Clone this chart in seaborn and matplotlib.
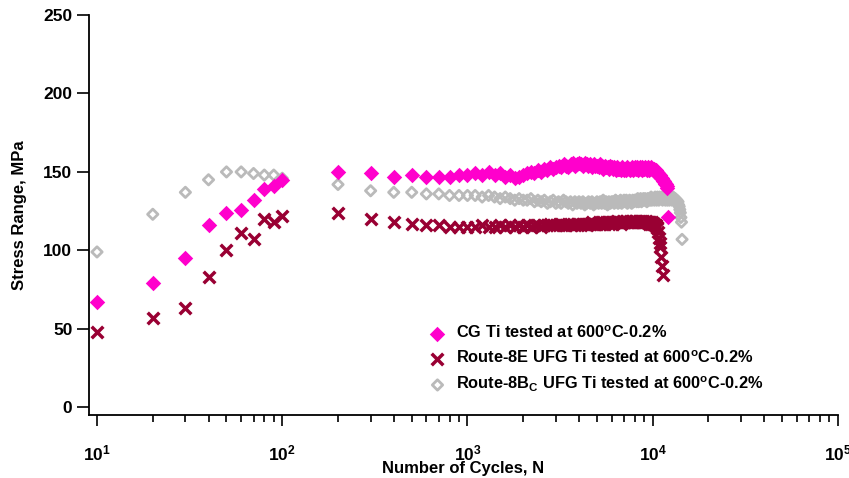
import matplotlib
matplotlib.use("Agg")
import matplotlib.pyplot as plt
import seaborn as sns
from matplotlib.ticker import LogLocator, LogFormatterSciNotation

# ---------------- data ----------------
cycles = [
    10, 20, 30, 40, 50, 60, 70, 80, 90, 100,
    200, 300, 400, 500, 600, 700, 800, 900, 1000,
    1100, 1200, 1300, 1400, 1500, 1600, 1700, 1800, 1900, 2000,
    2100, 2200, 2300, 2400, 2500, 2600, 2700, 2800, 2900, 3000,
    3100, 3200, 3300, 3400, 3500, 3600, 3700, 3800, 3900, 4000,
    4100, 4200, 4300, 4400, 4500, 4600, 4700, 4800, 4900, 5000,
    5100, 5200, 5300, 5400, 5500, 5600, 5700, 5800, 5900, 6000,
    6100, 6200, 6300, 6400, 6500, 6600, 6700, 6800, 6900, 7000,
    7100, 7200, 7300, 7400, 7500, 7600, 7700, 7800, 7900, 8000,
    8100, 8200, 8300, 8400, 8500, 8600, 8700, 8800, 8900, 9000,
    9100, 9200, 9300, 9400, 9500, 9600, 9700, 9800, 9900, 10000,
    10100, 10200, 10300, 10400, 10500, 10600, 10700, 10800, 10900, 11000,
    11100, 11200, 11300, 11400, 11500, 11600, 11700, 11800, 11900, 12000,
    12100, 12200, 12300, 12400, 12500, 12600, 12700, 12800, 12900, 13000,
    13100, 13200, 13300, 13400, 13500, 13600, 13700, 13800, 13900, 14000,
    14100, 14200, 14300, 14400,
]

# CG Ti
stress_cg = [
    67, 79, 95, 116, 124, 126, 132, 139, 141, 145,
    150, 149, 147, 148, 147, 147, 147, 148, 148,
    149, 148, 150, 148, 149, 147, 148, 146, 147, 148,
    149, 150, 149, 151, 150, 152, 151, 153, 152, 153,
    154, 153, 155, 154, 153, 155, 156, 154, 155, 156,
    155, 154, 156, 155, 154, 155, 153, 155, 154, 154,
    153, 155, 154, 152, 154, 153, 153, 152, 154, 153,
    152, 153, 151, 153, 152, 152, 151, 153, 152, 151,
    152, 151, 153, 152, 151, 152, 153, 151, 152, 153,
    152, 153, 151, 152, 153, 152, 151, 153, 152, 152,
    153, 152, 151, 153, 152, 151, 152, 153, 152, 151,
    152, 151, 150, 151, 150, 149, 149, 148, 148, 147,
    146, 146, 145, 144, 144, 143, 142, 142, 141, 140,
    121,
]

# Route-8E UFG Ti
stress_8e = [
    48, 57, 63, 83, 100, 111, 107, 120, 118, 122,
    124, 120, 118, 117, 116, 116, 115, 115, 115,
    115, 116, 115, 115, 116, 115, 116, 115, 116, 115,
    116, 115, 116, 116, 115, 116, 116, 117, 116, 116,
    116, 117, 116, 116, 117, 116, 117, 116, 117, 117,
    116, 117, 117, 116, 117, 117, 118, 117, 117, 117,
    118, 117, 117, 118, 117, 118, 118, 117, 118, 118,
    117, 118, 118, 119, 118, 118, 117, 118, 119, 118,
    118, 119, 118, 118, 119, 118, 119, 118, 118, 119,
    119, 118, 118, 119, 118, 119, 118, 118, 119, 118,
    118, 119, 118, 118, 117, 118, 118, 117, 118, 117,
    117, 117, 116, 116, 115, 114, 112, 108, 105, 102,
    96, 90, 84,
]

# Route-8Bc UFG Ti
stress_8bc = [
    99, 123, 137, 145, 150, 150, 149, 148, 148, 146,
    142, 138, 137, 137, 136, 136, 135, 135, 135,
    135, 134, 135, 134, 133, 134, 133, 132, 133, 132,
    132, 133, 131, 132, 131, 132, 130, 131, 132, 130,
    131, 130, 132, 131, 130, 131, 129, 131, 130, 131,
    130, 131, 129, 130, 131, 130, 131, 129, 130, 131,
    130, 131, 130, 132, 130, 131, 129, 131, 130, 131,
    131, 130, 132, 131, 130, 131, 132, 130, 131, 132,
    131, 132, 130, 131, 132, 131, 130, 132, 131, 132,
    132, 131, 133, 131, 132, 133, 131, 132, 133, 132,
    133, 132, 131, 133, 132, 133, 132, 134, 132, 133,
    133, 132, 134, 133, 132, 134, 133, 132, 134, 133,
    133, 134, 132, 133, 134, 133, 132, 134, 133, 132,
    133, 134, 132, 133, 134, 133, 132, 133, 134, 133,
    132, 133, 132, 131, 132, 130, 131, 129, 128, 126,
    124, 121, 118, 107,
]

labels = [
    "CG Ti tested at 600$^{\\mathregular{o}}$C-0.2%",
    "Route-8E UFG Ti tested at 600$^{\\mathregular{o}}$C-0.2%",
    "Route-8B$_{\\mathregular{C}}$ UFG Ti tested at 600$^{\\mathregular{o}}$C-0.2%",
]

# ---------------- style ----------------
sns.set_theme(style="ticks")
plt.rcParams["font.family"] = ["Liberation Sans", "DejaVu Sans"]
plt.rcParams["font.weight"] = "bold"
plt.rcParams["axes.labelweight"] = "bold"
plt.rcParams["text.color"] = "black"
plt.rcParams["axes.labelcolor"] = "black"
plt.rcParams["xtick.color"] = "black"
plt.rcParams["ytick.color"] = "black"
plt.rcParams["mathtext.fontset"] = "custom"
plt.rcParams["mathtext.rm"] = "Liberation Sans:bold"
plt.rcParams["mathtext.it"] = "Liberation Sans:bold:italic"
plt.rcParams["mathtext.bf"] = "Liberation Sans:bold"

fig = plt.figure(figsize=(8.49, 4.78), dpi=100)
ax = fig.add_axes([0.1048, 0.1318, 0.8822, 0.8368])

# draw order: 8E, 8Bc, CG on top
sns.scatterplot(x=cycles[:len(stress_8e)], y=stress_8e, ax=ax,
                marker="x", s=70, linewidth=2.5, color="#990033",
                label=labels[1], zorder=3)
sns.scatterplot(x=cycles[:len(stress_8bc)], y=stress_8bc, ax=ax,
                marker="D", s=28, linewidth=2.0, facecolors="none",
                edgecolor="#bababa", label=labels[2], zorder=4)
sns.scatterplot(x=cycles[:len(stress_cg)], y=stress_cg, ax=ax,
                marker="D", s=62, linewidth=0, color="#ff00cc",
                label=labels[0], zorder=5)

ax.set_xscale("log")
ax.set_xlim(9.05, 1e5)
ax.set_ylim(-4.9, 250)
ax.set_yticks([0, 50, 100, 150, 200, 250])
ax.xaxis.set_major_locator(LogLocator(base=10, numticks=10))
ax.xaxis.set_minor_locator(LogLocator(base=10, subs=range(2, 10), numticks=20))
ax.xaxis.set_major_formatter(LogFormatterSciNotation())

sns.despine(ax=ax)
for s in ["left", "bottom"]:
    ax.spines[s].set_linewidth(1.3)
    ax.spines[s].set_color("black")

ax.tick_params(axis="y", which="major", length=8.5, width=1.2, pad=3.5,
               labelsize=12.5, colors="black")
ax.tick_params(axis="x", which="major", length=8, width=1.2, pad=12.5,
               labelsize=12.5, colors="black")
ax.tick_params(axis="x", which="minor", length=5, width=1.2, colors="black")
for t in ax.get_yticklabels() + ax.get_xticklabels():
    t.set_fontweight("bold")

ax.set_xlabel("Number of Cycles, N", fontsize=12, fontweight="bold",
              labelpad=-1.5, color="black")
ax.set_ylabel("Stress Range, MPa", fontsize=12, fontweight="bold",
              labelpad=12, color="black")

# legend in CG, 8E, 8Bc order
handles, labs = ax.get_legend_handles_labels()
order = [labs.index(l) for l in labels]
leg = ax.legend([handles[i] for i in order], [labs[i] for i in order],
                loc="upper left", bbox_to_anchor=(0.496, 0.335),
                bbox_transform=fig.transFigure, frameon=False,
                handletextpad=0.55, labelspacing=0.52,
                borderaxespad=0, handlelength=1.2,
                prop={"weight": "bold", "size": 11.8})
for t in leg.get_texts():
    t.set_color("black")

fig.savefig("out.png", dpi=100)
